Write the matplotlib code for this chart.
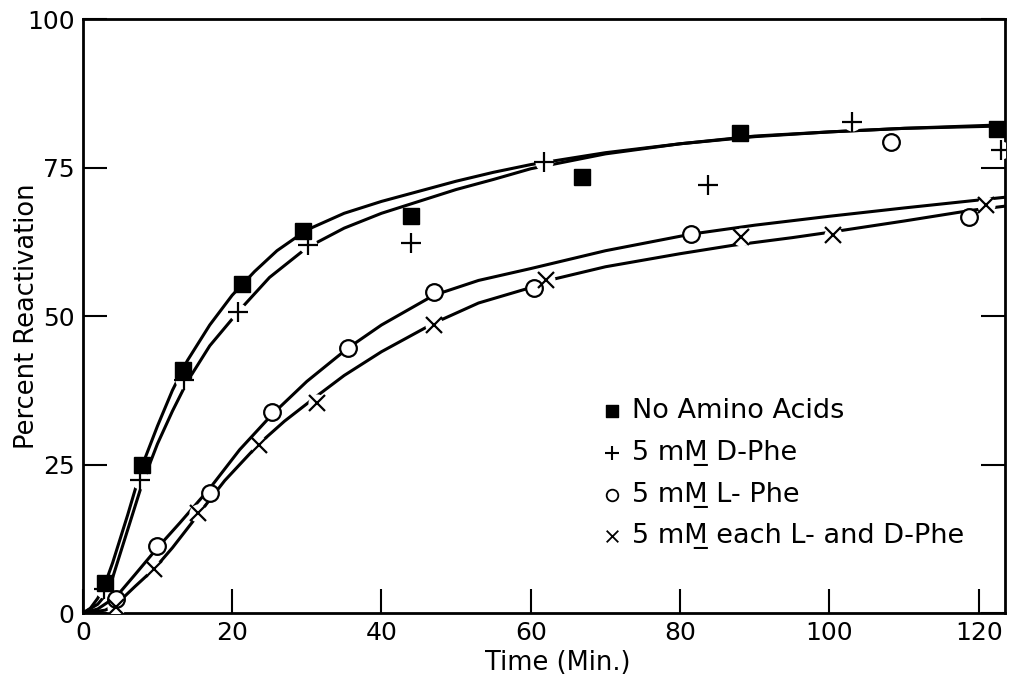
import numpy as np
import matplotlib
matplotlib.use("Agg")
import matplotlib.pyplot as plt

plt.rcParams['font.family'] = ['DejaVu Sans']

# measured points
noaa_x = [3.0, 7.9, 13.4, 21.3, 29.5, 43.9, 66.9, 88.0, 122.5]
noaa_y = [5.0, 24.9, 41.0, 55.4, 64.3, 66.8, 73.4, 80.8, 81.5]

dphe_x = [2.9, 7.6, 13.6, 20.8, 30.1, 44.0, 61.8, 83.7, 103.0, 123.0]
dphe_y = [4.0, 22.4, 39.2, 50.7, 62.0, 62.3, 76.0, 72.0, 82.7, 78.0]

lphe_x = [4.5, 10.0, 17.0, 25.4, 35.5, 47.0, 60.4, 81.5, 108.3, 118.7]
lphe_y = [2.4, 11.3, 20.2, 33.9, 44.6, 54.0, 54.7, 63.8, 79.3, 66.7]

both_x = [4.5, 9.6, 15.4, 23.6, 31.3, 47.1, 62.1, 88.1, 100.5, 120.9]
both_y = [1.0, 7.5, 16.8, 28.3, 35.3, 48.5, 56.0, 63.3, 63.6, 68.7]

# hand drawn curves
noaa_cx = [0, 1, 2, 3, 4, 5, 6, 8, 10, 12, 14, 17, 20, 23, 26, 30, 35, 40, 45, 50, 55, 60, 70, 80, 90, 100, 110, 123.5]
noaa_cy = [0, 0.8, 2.5, 5.0, 8.5, 12.5, 16.5, 25.0, 31.5, 37.5, 42.5, 48.5, 53.5, 57.5, 61.0, 64.5, 67.3, 69.3, 71.0, 72.7, 74.2, 75.5, 77.5, 79.0, 80.2, 81.0, 81.6, 82.2]

dphe_cx = [0, 2, 3, 4, 5, 6, 8, 10, 12, 14, 17, 21, 25, 30, 35, 40, 45, 50, 55, 60, 70, 80, 90, 100, 110, 123.5]
dphe_cy = [0, 1.5, 3.0, 6.0, 10.0, 14.0, 22.0, 28.5, 34.0, 39.0, 45.0, 51.0, 56.5, 61.5, 64.8, 67.3, 69.3, 71.3, 73.0, 74.8, 77.3, 79.0, 80.3, 81.0, 81.6, 82.0]

lphe_cx = [0, 2, 4.5, 7, 10, 13, 17, 21, 25.4, 30, 35.5, 40, 47, 53, 60, 70, 81.5, 90, 100, 110, 123.5]
lphe_cy = [0, 0.7, 2.8, 6.5, 11.0, 15.2, 21.0, 27.5, 33.5, 39.0, 44.6, 48.5, 53.5, 56.0, 58.0, 61.0, 63.8, 65.3, 66.8, 68.2, 70.0]

both_cx = [0, 3, 4.5, 7, 9.6, 12, 15.4, 19, 23.6, 27, 31.3, 35, 40, 47, 53, 60, 63, 70, 80, 87, 95, 100, 110, 119, 123.5]
both_cy = [0, 0.5, 1.5, 4.5, 7.5, 11.0, 16.5, 22.3, 28.5, 32.3, 36.5, 40.0, 44.0, 48.8, 52.2, 54.8, 56.2, 58.3, 60.5, 61.9, 63.2, 64.1, 66.0, 67.8, 68.5]

labels = ['No Amino Acids',
          '5 mM\u0332 D-Phe',
          '5 mM\u0332 L- Phe',
          '5 mM\u0332 each L- and D-Phe']

fig = plt.figure(figsize=(10.1, 6.79), dpi=100)
ax = fig.add_axes([0.082, 0.097, 0.913, 0.875])

line_kw = dict(color='black', lw=2.2, solid_capstyle='butt', zorder=2)
ax.plot(noaa_cx, noaa_cy, **line_kw)
ax.plot(dphe_cx, dphe_cy, **line_kw)
ax.plot(lphe_cx, lphe_cy, **line_kw)
ax.plot(both_cx, both_cy, **line_kw)

# white patches behind the thin markers give the broken-line look
ax.plot(dphe_x, dphe_y, 'o', ms=13, mfc='white', mec='none', zorder=3)
ax.plot(both_x, both_y, 'o', ms=13, mfc='white', mec='none', zorder=3)

ax.plot(noaa_x, noaa_y, 's', ms=11, color='black', zorder=4)
ax.plot(dphe_x, dphe_y, '+', ms=15, mew=1.6, color='black', zorder=4)
ax.plot(lphe_x, lphe_y, 'o', ms=12, mfc='white', mec='black', mew=1.6, zorder=4)
ax.plot(both_x, both_y, 'x', ms=11, mew=1.6, color='black', zorder=4)

h1 = ax.scatter([], [], marker='s', s=80, color='black')
h2 = ax.scatter([], [], marker='+', s=110, color='black', linewidths=1.5)
h3 = ax.scatter([], [], marker='o', s=70, facecolors='white', edgecolors='black', linewidths=1.3)
h4 = ax.scatter([], [], marker='x', s=70, color='black', linewidths=1.3)
ax.legend([h1, h2, h3, h4], labels, loc='upper left', bbox_to_anchor=(0.547, 0.38),
          frameon=False, fontsize=19.5, handletextpad=0.25, labelspacing=0.58,
          handlelength=1.0, borderaxespad=0)

ax.set_xlim(0, 123.5)
ax.set_ylim(0, 100)
ax.set_xticks([0, 20, 40, 60, 80, 100, 120])
ax.set_yticks([0, 25, 50, 75, 100])
ax.tick_params(axis='both', direction='in', length=17, width=1.5, labelsize=18, pad=6)
ax.tick_params(axis='y', right=True)
for s in ax.spines.values():
    s.set_linewidth(2)
ax.set_xlabel('Time (Min.)', fontsize=18.5)
ax.xaxis.set_label_coords(0.515, -0.062)
ax.set_ylabel('Percent Reactivation', fontsize=18.5)
ax.yaxis.set_label_coords(-0.046, 0.5)

plt.savefig('out.png', dpi=100)
